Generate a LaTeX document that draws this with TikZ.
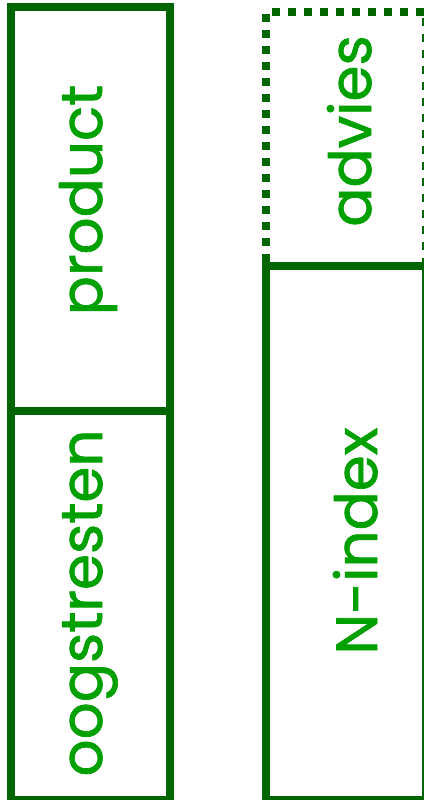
\documentclass[tikz,border=0pt]{standalone}
\usepackage{fontspec}
\setmainfont{Poppins}
\newfontfamily\lblfont{Poppins}[FakeBold=1.2]
\definecolor{boxgreen}{RGB}{0,100,0}
\definecolor{txtgreen}{RGB}{0,160,0}
\tikzset{
  boxline/.style={draw=boxgreen, line width=8pt},
  dotline/.style={draw=boxgreen, line width=8pt, dash pattern=on 8pt off 8pt},
  lbl/.style={rotate=90, anchor=base, text=txtgreen, font=\lblfont\fontsize{58}{58}\selectfont, inner sep=0pt}
}
\begin{document}
\begin{tikzpicture}[x=1pt,y=-1pt]
\useasboundingbox (0,0) rectangle (423,800);
% left column
\draw[boxline] (11,7) rectangle (170,800);
\draw[boxline] (11,411) -- (170,411);
% right column
\draw[boxline] (266,266) rectangle (426,800);
\draw[dotline] (266,262) -- (266,12) -- (426,12) -- (426,262);
% labels
\node[lbl] (product) at (102,200) {product};
\node[lbl] (oogst) at (102,603) {oogstresten};
\node[lbl] (advies) at (371,131) {advies};
\node[lbl] (nindex) at (377,541) {N-index};
\end{tikzpicture}
\end{document}
